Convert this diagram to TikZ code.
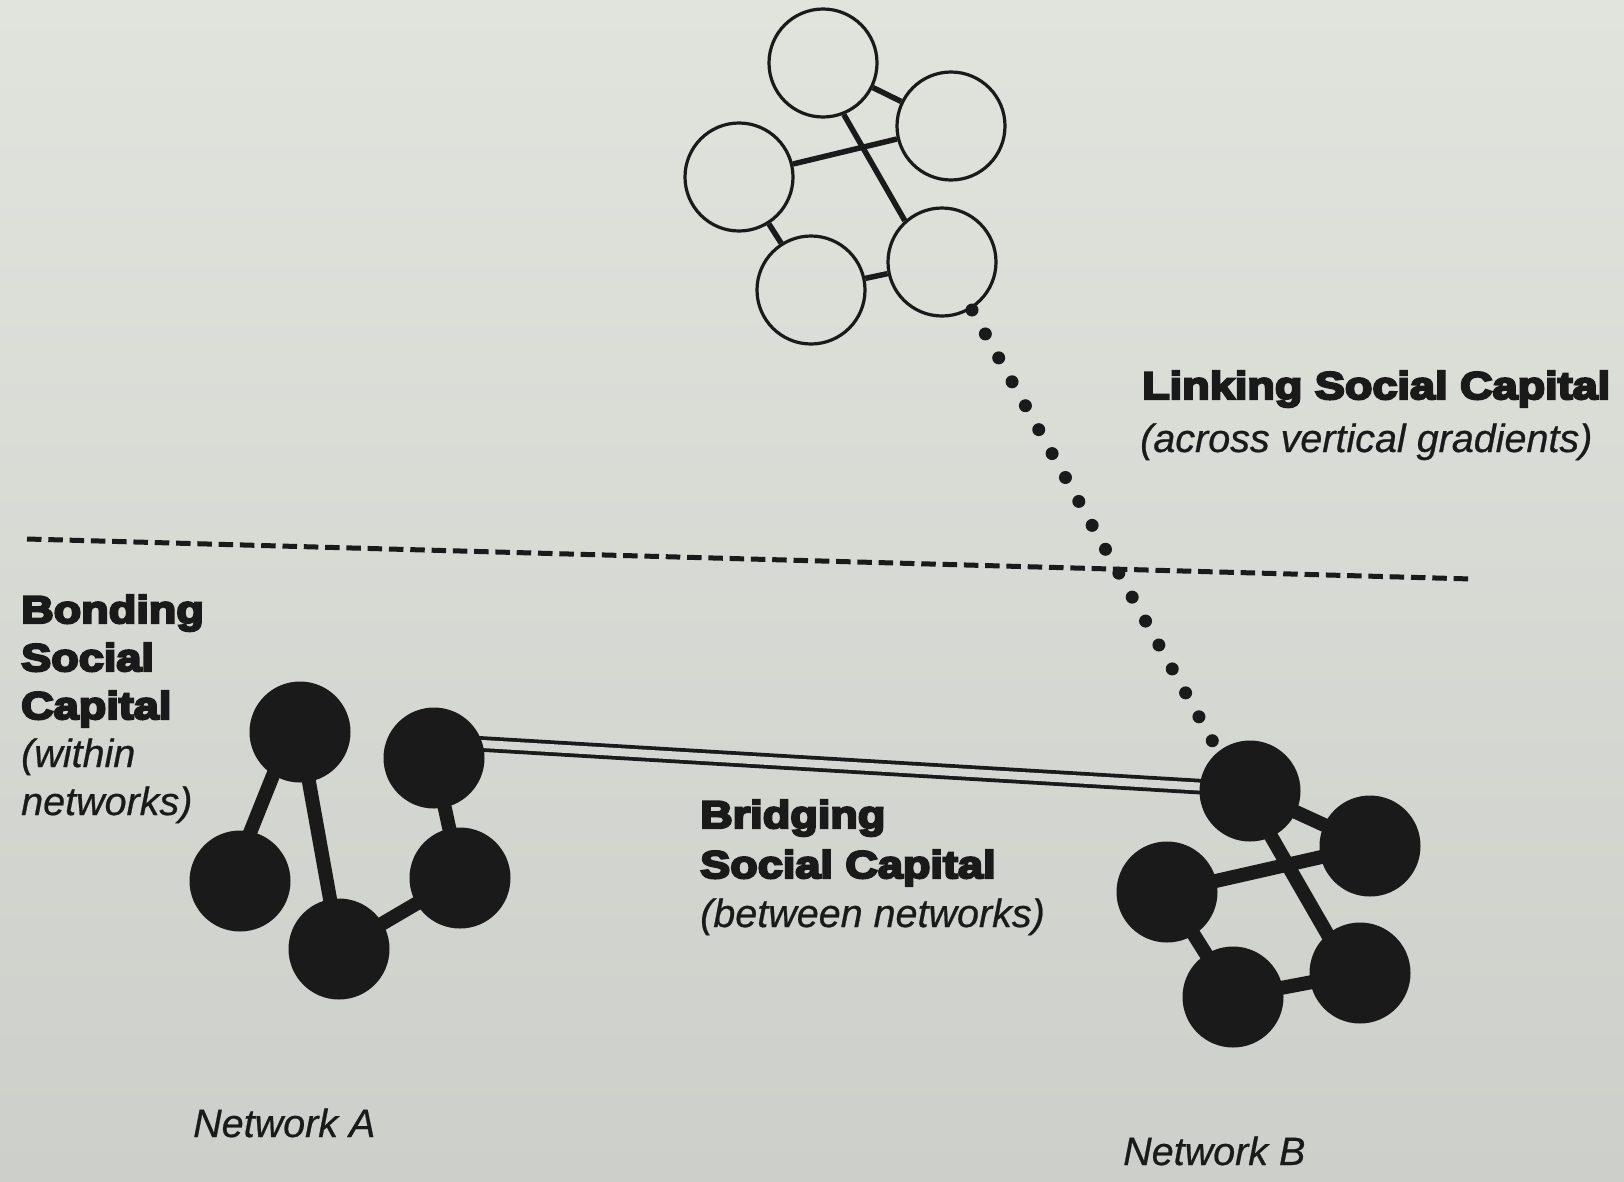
\documentclass[tikz,border=0pt]{standalone}
\usepackage{fontspec}
\setmainfont{Liberation Sans}
\newfontfamily\heavyfont[FakeStretch=1.17,BoldFeatures={FakeBold=6}]{Liberation Sans}
\newfontfamily\italfont[ItalicFeatures={FakeBold=0.6}]{Liberation Sans}
\definecolor{ink}{RGB}{26,26,26}
\definecolor{bgtop}{RGB}{225,227,221}
\definecolor{bgbot}{RGB}{205,207,202}
\definecolor{bgmid}{RGB}{213,215,210}
\pgfdeclarelayer{bglayer}
\pgfdeclarelayer{edgelayer}
\pgfsetlayers{bglayer,edgelayer,main}
\begin{document}
\begin{tikzpicture}[x=1pt,y=-1pt,
  blacknode/.style={circle,fill=ink,minimum size=101pt,inner sep=0pt},
  opennode/.style={circle,draw=ink,line width=3.2pt,minimum size=108pt,inner sep=0pt},
  bondedge/.style={draw=ink,line width=14pt,shorten <=-8pt,shorten >=-8pt},
  openedge/.style={draw=ink,line width=5.5pt},
  bridge/.style={draw=ink,double=bgmid,line width=3.8pt,double distance=8pt,shorten <=-6pt,shorten >=-6pt},
  linkline/.style={draw=ink,line width=13pt,line cap=round,dash pattern=on 0pt off 27.4pt},
  divider/.style={draw=ink,line width=5pt,dash pattern=on 14.5pt off 6.8pt},
  headtext/.style={font=\heavyfont\bfseries\fontsize{38.5}{46}\selectfont,text=ink,inner sep=0pt,anchor=base west},
  subtext/.style={font=\italfont\itshape\fontsize{39.5}{46}\selectfont,text=ink,inner sep=0pt,anchor=base west}]
\begin{pgfonlayer}{bglayer}
  \shade[top color=bgtop,bottom color=bgbot] (0,0) rectangle (1624,1181);
\end{pgfonlayer}
\path[use as bounding box] (0,0) rectangle (1624,1181);

% top network (open circles)
\node[opennode] (t1) at (823,63) {};
\node[opennode] (t2) at (951,126) {};
\node[opennode] (t3) at (739,177) {};
\node[opennode] (t4) at (811,290) {};
\node[opennode] (t5) at (942,262) {};
\draw[openedge] (t1) -- (t2);
\draw[openedge] (t1.292) -- (t5.132);
\draw[openedge] (t3) -- (t2);
\draw[openedge] (t3) -- (t4);
\draw[openedge] (t4) -- (t5);

% network A
\node[blacknode] (a1) at (300,732) {};
\node[blacknode] (a2) at (434,758) {};
\node[blacknode] (a3) at (240,881) {};
\node[blacknode] (a4) at (339,949) {};
\node[blacknode] (a5) at (460,878) {};

% network B
\node[blacknode] (b1) at (1250,791) {};
\node[blacknode] (b2) at (1370,846) {};
\node[blacknode] (b3) at (1167,892) {};
\node[blacknode] (b4) at (1233,997) {};
\node[blacknode] (b5) at (1360,973) {};

\begin{pgfonlayer}{edgelayer}
  \draw[bondedge] (a1.238) -- (a3.78);
  \draw[bondedge] (a1) -- (a4);
  \draw[bondedge] (a4) -- (a5);
  \draw[bondedge] (a2) -- (a5);
  \draw[bondedge] (b1) -- (b2);
  \draw[bondedge] (b1.295) -- (b5.130);
  \draw[bondedge] (b3) -- (b2);
  \draw[bondedge] (b3) -- (b4);
  \draw[bondedge] (b4) -- (b5);
  \draw[bridge] (a2.16) -- (b1.175);
\end{pgfonlayer}

% divider
\coordinate (dl) at (27,539);
\coordinate (dr) at (1472,579);
\draw[divider] (dl) -- (dr);

% linking dotted line
\coordinate (ls) at (972,310);
\coordinate (le) at (1213,742);
\draw[linkline] (ls) -- (le);

% labels
\node[headtext] (link1) at (1142,399) {Linking Social Capital};
\node[subtext] (link2) at (1140,452) {(across vertical gradients)};

\node[headtext] (bond1) at (21,623) {Bonding};
\node[headtext] (bond2) at (21,671) {Social};
\node[headtext] (bond3) at (21,719) {Capital};
\node[subtext] (bond4) at (21,767) {(within};
\node[subtext] (bond5) at (21,815) {networks)};

\node[headtext] (bridge1) at (700,828) {Bridging};
\node[headtext] (bridge2) at (700,878) {Social Capital};
\node[subtext] (bridge3) at (700,927) {(between networks)};

\node[subtext] (neta) at (193,1137) {Network A};
\node[subtext] (netb) at (1123,1165) {Network B};
\end{tikzpicture}
\end{document}
